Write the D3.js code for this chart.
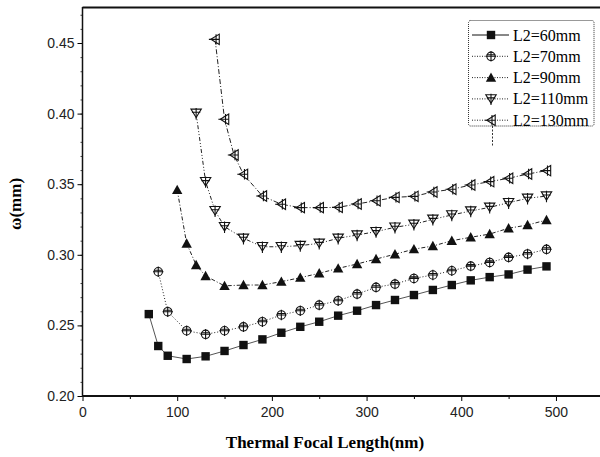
<!DOCTYPE html>
<html>
<head>
<meta charset="utf-8">
<script src="https://cdn.jsdelivr.net/npm/d3@7"></script>
<style>
  body { margin: 0; background: #fff; }
  svg { display: block; }
  .tick text { font-family: 'Liberation Sans', Arial, sans-serif; font-size: 14px; fill: #222; }
</style>
</head>
<body>
<svg id="chart" width="600" height="457"></svg>
<script>
// thermal focal length (nm) for each series
const x60 = [70, 80, 90, 110, 130, 150, 170, 190, 210, 230, 250, 270, 290, 310, 330, 350, 370, 390, 410, 430, 450, 470, 490]
const x70 = [80, 90, 110, 130, 150, 170, 190, 210, 230, 250, 270, 290, 310, 330, 350, 370, 390, 410, 430, 450, 470, 490]
const x90 = [100, 110, 120, 130, 150, 170, 190, 210, 230, 250, 270, 290, 310, 330, 350, 370, 390, 410, 430, 450, 470, 490]
const x110 = [120, 130, 140, 150, 170, 190, 210, 230, 250, 270, 290, 310, 330, 350, 370, 390, 410, 430, 450, 470, 490]
const x130 = [140, 150, 160, 170, 190, 210, 230, 250, 270, 290, 310, 330, 350, 370, 390, 410, 430, 450, 470, 490]

// omega (mm)
const w60 = [0.258, 0.2354, 0.2285, 0.2262, 0.2281, 0.2319, 0.2361, 0.2401, 0.2448, 0.249, 0.2526, 0.2569, 0.2604, 0.2644, 0.268, 0.2715, 0.2751, 0.2786, 0.2819, 0.2842, 0.2861, 0.2895, 0.2918]
const w70 = [0.288, 0.2597, 0.2462, 0.2437, 0.2462, 0.249, 0.2526, 0.2574, 0.2604, 0.2644, 0.2675, 0.2722, 0.277, 0.2793, 0.2833, 0.2857, 0.2887, 0.292, 0.2946, 0.2982, 0.3006, 0.3039]
const w90 = [0.346, 0.308, 0.2928, 0.285, 0.278, 0.2786, 0.2786, 0.281, 0.2838, 0.2869, 0.2904, 0.2935, 0.297, 0.3004, 0.304, 0.3062, 0.31, 0.3124, 0.3147, 0.3188, 0.3211, 0.3246]
const w110 = [0.4002, 0.3518, 0.3312, 0.3199, 0.3117, 0.3057, 0.3057, 0.3065, 0.3081, 0.3117, 0.314, 0.3164, 0.3195, 0.3216, 0.3251, 0.3282, 0.331, 0.3336, 0.3369, 0.34, 0.3416]
const w130 = [0.4526, 0.396, 0.3707, 0.357, 0.3416, 0.3358, 0.3334, 0.3334, 0.3336, 0.336, 0.3383, 0.3407, 0.3414, 0.3445, 0.3464, 0.3494, 0.3518, 0.3542, 0.3572, 0.3596]

const seriesNames = ['L2=60mm', 'L2=70mm', 'L2=90mm', 'L2=110mm', 'L2=130mm']
const xTicks = [0, 100, 200, 300, 400, 500]
const yTicks = [0.20, 0.25, 0.30, 0.35, 0.40, 0.45]

const series = [
  { name: seriesNames[0], xs: x60, ys: w60, marker: 'square', dash: null },
  { name: seriesNames[1], xs: x70, ys: w70, marker: 'circle', dash: '1,2' },
  { name: seriesNames[2], xs: x90, ys: w90, marker: 'up', dash: '4,2,1,2' },
  { name: seriesNames[3], xs: x110, ys: w110, marker: 'down', dash: '4,2,1,2,1,2' },
  { name: seriesNames[4], xs: x130, ys: w130, marker: 'left', dash: '5,2,1,2' }
]

const svg = d3.select('#chart')
const x = d3.scaleLinear().domain([0, 550]).range([82.5, 603.3])
const y = d3.scaleLinear().domain([0.2, 0.475]).range([396, 7.7])

// minor ticks
svg.append('g')
  .attr('transform', 'translate(82.5,0)')
  .call(d3.axisLeft(y).tickValues(d3.range(0.21, 0.475, 0.01)).tickSize(2).tickFormat(''))
  .call(g => g.select('.domain').remove())
  .selectAll('line').attr('stroke', '#444')
svg.append('g')
  .attr('transform', 'translate(0,396)')
  .call(d3.axisBottom(x).tickValues([50, 150, 250, 350, 450]).tickSize(3).tickFormat(''))
  .call(g => g.select('.domain').remove())

// major axes
svg.append('g')
  .attr('transform', 'translate(82.5,0)')
  .call(d3.axisLeft(y).tickValues(yTicks).tickSize(5).tickPadding(3).tickFormat(d3.format('.2f')))
  .call(g => g.select('.domain').remove())
svg.append('g')
  .attr('transform', 'translate(0,396)')
  .call(d3.axisBottom(x).tickValues(xTicks).tickSize(5).tickPadding(6))
  .call(g => g.select('.domain').remove())

// frame lines
svg.append('line').attr('x1', 82.5).attr('x2', 600).attr('y1', 396).attr('y2', 396)
  .attr('stroke', '#111').attr('stroke-width', 2)
svg.append('line').attr('x1', 82.5).attr('x2', 600).attr('y1', 7.5).attr('y2', 7.5)
  .attr('stroke', '#111').attr('stroke-width', 2)
svg.append('line').attr('x1', 82.5).attr('x2', 82.5).attr('y1', 7).attr('y2', 397)
  .attr('stroke', '#111').attr('stroke-width', 1.5)

// axis titles
svg.append('text')
  .attr('x', 325).attr('y', 448)
  .attr('text-anchor', 'middle')
  .style('font-family', "'Liberation Serif', 'Times New Roman', serif")
  .style('font-size', '17px').style('font-weight', 'bold')
  .text('Thermal Focal Length(nm)')
svg.append('text')
  .attr('transform', 'translate(21,204) rotate(-90)')
  .attr('text-anchor', 'middle')
  .style('font-family', "'Liberation Serif', 'Times New Roman', serif")
  .style('font-size', '17px').style('font-weight', 'bold')
  .text('ω(mm)')

function drawMarker (g, type) {
  const s = 4.2
  const st = { stroke: '#111', 'stroke-width': 1.1 }
  if (type === 'square') {
    g.append('rect').attr('x', -s).attr('y', -s).attr('width', 2 * s).attr('height', 2 * s).attr('fill', '#111')
  } else if (type === 'circle') {
    g.append('circle').attr('r', s).attr('fill', '#fff').attr('stroke', st.stroke).attr('stroke-width', st['stroke-width'])
    g.append('path').attr('d', `M${-s - 1},0H${s + 1}M0,${-s - 1}V${s + 1}M${-s},-1.5H${s}`)
      .attr('stroke', st.stroke).attr('stroke-width', st['stroke-width']).attr('fill', 'none')
  } else if (type === 'up') {
    g.append('path').attr('d', `M0,${-s - 1}L${s + 1},${s}L${-s - 1},${s}Z`).attr('fill', '#111')
  } else if (type === 'down') {
    g.append('path').attr('d', `M${-s - 1},${-s}L${s + 1},${-s}L0,${s}Z`)
      .attr('fill', '#fff').attr('stroke', st.stroke).attr('stroke-width', st['stroke-width'])
    g.append('path').attr('d', `M0,${-s - 1}V${s + 2}M${-s},-1H${s}`)
      .attr('stroke', st.stroke).attr('stroke-width', st['stroke-width']).attr('fill', 'none')
  } else if (type === 'left') {
    g.append('path').attr('d', `M${-s},0L${s},${-s - 1}L${s},${s + 1}Z`)
      .attr('fill', '#fff').attr('stroke', st.stroke).attr('stroke-width', st['stroke-width'])
    g.append('path').attr('d', `M${-s - 2},0H${s}M1,${-s - 1}V${s + 1}`)
      .attr('stroke', st.stroke).attr('stroke-width', st['stroke-width']).attr('fill', 'none')
  }
}

const line = d3.line().x(d => x(d[0])).y(d => y(d[1]))

series.forEach(s => {
  const pts = s.xs.map((v, i) => [v, s.ys[i]])
  svg.append('path')
    .datum(pts)
    .attr('d', line)
    .attr('fill', 'none')
    .attr('stroke', s.dash ? '#222' : '#555')
    .attr('stroke-width', 1)
    .attr('stroke-dasharray', s.dash)
  svg.append('g').selectAll('g')
    .data(pts)
    .join('g')
    .attr('transform', d => `translate(${x(d[0])},${y(d[1])})`)
    .each(function () { drawMarker(d3.select(this), s.marker) })
})

// legend
const legend = svg.append('g')
legend.append('rect')
  .attr('x', 468.5).attr('y', 20.5).attr('width', 125.5).attr('height', 105.5).attr('rx', 2)
  .attr('fill', '#fff').attr('stroke', '#333').attr('stroke-width', 1).attr('stroke-dasharray', '1,1')
legend.append('line')
  .attr('x1', 492.5).attr('x2', 492.5).attr('y1', 126).attr('y2', 146)
  .attr('stroke', '#333').attr('stroke-dasharray', '2,1.5')
series.forEach((s, i) => {
  const ly = 35 + i * 21.3
  legend.append('line')
    .attr('x1', 472).attr('x2', 509).attr('y1', ly).attr('y2', ly)
    .attr('stroke', s.dash ? '#222' : '#111').attr('stroke-width', 1)
    .attr('stroke-dasharray', s.dash ? '1,1.5' : null)
  drawMarker(legend.append('g').attr('transform', `translate(491,${ly})`), s.marker)
  legend.append('text')
    .attr('x', 513).attr('y', ly + 5.5)
    .style('font-family', "'Liberation Serif', 'Times New Roman', serif")
    .style('font-size', '16px')
    .text(s.name)
})
</script>
</body>
</html>
